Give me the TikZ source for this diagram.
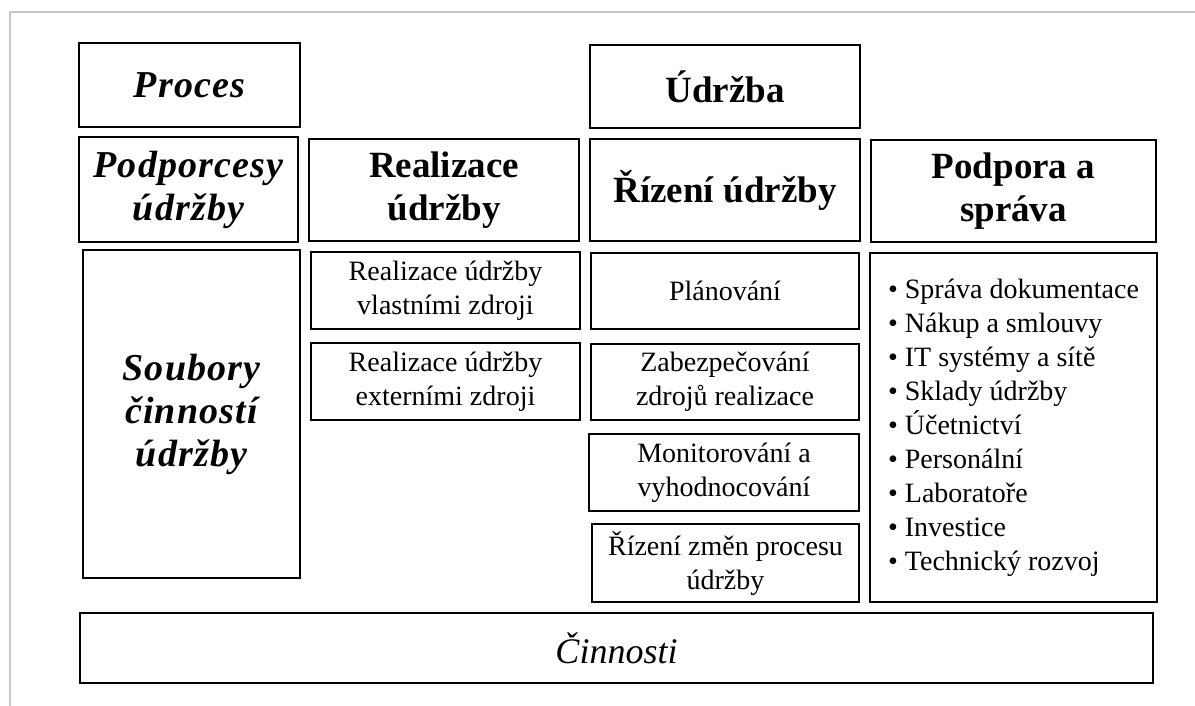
\documentclass[tikz,border=0pt]{standalone}
\usepackage{fontspec}
\setmainfont{Liberation Serif}
\newfontfamily\spacedserif[LetterSpace=3]{Liberation Serif}
\begin{document}
\begin{tikzpicture}[x=1pt,y=-1pt,
  box/.style={draw=black, line width=1.8pt, inner sep=2pt, align=center},
  hdr/.style={box, font=\fontsize{37}{43}\selectfont\bfseries},
  hdri/.style={box, font=\fontsize{38}{43}\selectfont\spacedserif\bfseries\itshape},
  item/.style={box, font=\fontsize{28}{34}\selectfont},
  frameline/.style={draw=black!22, line width=1.5pt}
]
\useasboundingbox (0,0) rectangle (1195,706);
\fill[white] (0,0) rectangle (1195,706);
\coordinate (fa) at (10,706);
\coordinate (fb) at (10,12);
\coordinate (fc) at (1195,12);
\draw[frameline] (fa) -- (fb) -- (fc);

% top row
\node[hdri, minimum width=221pt, minimum height=84pt] (proces) at (189.5,85) {Proces};
\node[hdr, minimum width=270pt, minimum height=83pt] (udrzba) at (725,86.5) {Údržba};

% header row
\node[hdri, minimum width=219pt, minimum height=105pt] (podpr) at (188.5,189.5) {Podporcesy\\údržby};
\node[hdr, minimum width=270pt, minimum height=102pt] (realhdr) at (444,190) {Realizace\\údržby};
\node[hdr, minimum width=270pt, minimum height=102pt] (rizhdr) at (725,190) {Řízení údržby};
\node[hdr, minimum width=285pt, minimum height=102pt] (podhdr) at (1013.5,191) {Podpora a\\správa};

% third row
\node[hdri, minimum width=217pt, minimum height=328pt] (soubory) at (191.5,414) {Soubory\\činností\\údržby};
\node[item, minimum width=269pt, minimum height=77pt] (rv) at (445.5,290.5) {Realizace údržby\\vlastními zdroji};
\node[item, minimum width=269pt, minimum height=77pt] (re) at (445.5,381.5) {Realizace údržby\\externími zdroji};
\node[item, minimum width=268pt, minimum height=76pt] (plan) at (725,291) {Plánování};
\node[item, minimum width=268pt, minimum height=76pt] (zab) at (725,382) {Zabezpečování\\zdrojů realizace};
\node[item, minimum width=270pt, minimum height=77pt] (mon) at (724,472.5) {Monitorování a\\vyhodnocování};
\node[item, minimum width=267pt, minimum height=78pt] (rzm) at (725.5,563) {Řízení změn procesu\\údržby};
\node[item, align=left, minimum width=287pt, minimum height=349pt] (podlist) at (1013.5,427.5)
  {• Správa dokumentace\\• Nákup a smlouvy\\• IT systémy a sítě\\• Sklady údržby\\• Účetnictví\\• Personální\\• Laboratoře\\• Investice\\• Technický rozvoj};

% bottom
\node[box, font=\fontsize{36}{43}\selectfont\itshape, minimum width=1073pt, minimum height=70pt] (cin) at (616.5,648) {Činnosti};
\end{tikzpicture}
\end{document}
